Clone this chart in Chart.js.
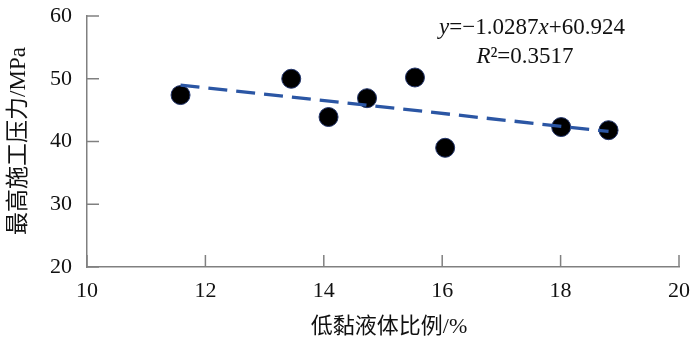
<!DOCTYPE html>
<html>
<head>
<meta charset="utf-8">
<script src="https://cdn.jsdelivr.net/npm/chart.js@4"></script>
<style>
  html, body { margin: 0; padding: 0; background: #fff; }
  #wrap { position: relative; width: 700px; height: 346px; }
</style>
</head>
<body>
<div id="wrap"><canvas id="c" width="700" height="346"></canvas></div>
<script>
// values
const ratioX    = [11.58, 13.45, 14.08, 14.73, 15.54, 16.05, 18.01, 18.81];
const pressureY = [47.4, 50.0, 43.9, 46.9, 50.2, 39.0, 42.3, 41.8];
const trendX    = [11.58, 18.81];
const trendY    = [49.0, 41.6];
const xTicks    = [10, 12, 14, 16, 18, 20];
const yTicks    = [20, 30, 40, 50, 60];

const serif = '"Liberation Serif", "Noto Sans CJK SC", serif';
const axisGray = '#808080';

// inner tick marks, titles and the regression note
const extras = {
  id: 'extras',
  afterDraw(chart) {
    const { ctx, chartArea: a, scales: { x, y } } = chart;
    ctx.save();
    ctx.strokeStyle = axisGray;
    ctx.lineWidth = 1.5;
    xTicks.forEach(v => {
      const px = x.getPixelForValue(v);
      ctx.beginPath(); ctx.moveTo(px, a.bottom); ctx.lineTo(px, a.bottom - 12); ctx.stroke();
    });
    yTicks.forEach(v => {
      const py = y.getPixelForValue(v);
      ctx.beginPath(); ctx.moveTo(a.left, py); ctx.lineTo(a.left + 12, py); ctx.stroke();
    });

    ctx.fillStyle = '#111';
    ctx.textBaseline = 'middle';
    ctx.textAlign = 'center';
    ctx.font = '22px ' + serif;
    ctx.fillText('低黏液体比例/%', 389, 327);
    ctx.save();
    ctx.translate(19, 141);
    ctx.rotate(-Math.PI / 2);
    ctx.font = '23px ' + serif;
    ctx.fillText('最高施工压力/MPa', 0, 0);
    ctx.restore();

    // equation, drawn piece by piece for the italics
    const parts1 = [['y', true], ['=\u22121.0287', false], ['x', true], ['+60.924', false]];
    const parts2 = [['R', true], ['\u00b2=0.3517', false]];
    const drawLine = (parts, cx, cy) => {
      ctx.textAlign = 'left';
      let w = 0;
      parts.forEach(([t, it]) => { ctx.font = (it ? 'italic ' : '') + '23px ' + serif; w += ctx.measureText(t).width; });
      let px = cx - w / 2;
      parts.forEach(([t, it]) => {
        ctx.font = (it ? 'italic ' : '') + '23px ' + serif;
        ctx.fillText(t, px, cy);
        px += ctx.measureText(t).width;
      });
    };
    drawLine(parts1, 532, 28);
    drawLine(parts2, 525, 57);
    ctx.restore();
  }
};

new Chart(document.getElementById('c'), {
  type: 'scatter',
  data: {
    datasets: [
      {
        type: 'line',
        data: trendX.map((v, i) => ({ x: v, y: trendY[i] })),
        borderColor: '#2b56a4',
        borderWidth: 3.3,
        borderDash: [19, 9],
        pointRadius: 0,
        fill: false
      },
      {
        data: ratioX.map((v, i) => ({ x: v, y: pressureY[i] })),
        backgroundColor: '#000',
        borderColor: '#22346a',
        borderWidth: 1,
        pointRadius: 9.5
      }
    ]
  },
  plugins: [extras],
  options: {
    responsive: false,
    animation: false,
    layout: { padding: { top: 16, right: 21, left: 0, bottom: 0 } },
    plugins: { legend: { display: false }, tooltip: { enabled: false } },
    scales: {
      x: {
        type: 'linear', min: 10, max: 20,
        afterBuildTicks: s => { s.ticks = xTicks.map(v => ({ value: v })); },
        afterFit: s => { s.height = 79; s.paddingLeft = 0; s.paddingRight = 0; },
        grid: { display: false, drawTicks: false },
        border: { color: axisGray, width: 1.5 },
        ticks: { color: '#111', padding: 11, font: { family: serif, size: 22 } }
      },
      y: {
        type: 'linear', min: 20, max: 60,
        afterBuildTicks: s => { s.ticks = yTicks.map(v => ({ value: v })); },
        afterFit: s => { s.width = 87; s.paddingTop = 0; s.paddingBottom = 0; },
        grid: { display: false, drawTicks: false },
        border: { color: axisGray, width: 1.5 },
        ticks: { color: '#111', padding: 15, font: { family: serif, size: 22 } }
      }
    }
  }
});
</script>
</body>
</html>
